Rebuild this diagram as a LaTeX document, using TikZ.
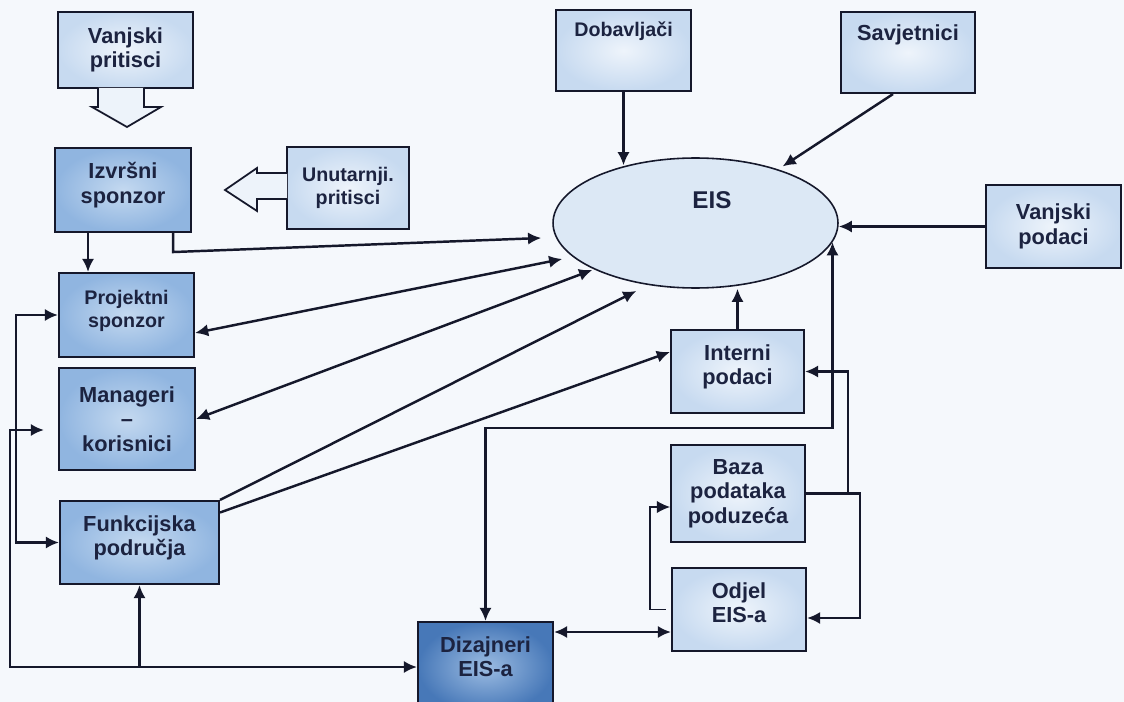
\documentclass[tikz,border=0pt]{standalone}
\usepackage{fontspec}
\setmainfont{Liberation Sans}
\usepackage{tikz}
\usetikzlibrary{arrows.meta,calc,positioning,shapes}

\definecolor{bgcol}{HTML}{F5F8FC}
\definecolor{linecol}{HTML}{15182B}
\definecolor{txtcol}{HTML}{1C2340}
\definecolor{lightin}{HTML}{EEF4FB}
\definecolor{lightout}{HTML}{C7DAF0}
\definecolor{midin}{HTML}{C4D9F0}
\definecolor{midout}{HTML}{90B5E0}
\definecolor{darkin}{HTML}{9CBCE2}
\definecolor{darkout}{HTML}{4778B8}
\definecolor{ellcol}{HTML}{DCE8F5}
\definecolor{blockcol}{HTML}{EDF3FA}

\tikzset{
	box/.style={draw=linecol, line width=1.2pt, inner color=lightin, outer color=lightout,
		text=txtcol, font=\bfseries\fontsize{12.4}{14}\selectfont, align=center,
		minimum width=2.7cm, minimum height=1.66cm, inner sep=2pt},
	midbox/.style={box, inner color=midin, outer color=midout},
	darkbox/.style={box, inner color=darkin, outer color=darkout},
	smalltext/.style={font=\bfseries\fontsize{11.2}{13}\selectfont},
	link/.style={draw=linecol, line width=1.4pt},
	blockarrow/.style={draw=linecol, line width=1pt, fill=blockcol, line join=miter},
	>={Latex[length=7.5pt,width=7pt]}
}

\begin{document}
\begin{tikzpicture}[x=0.02cm, y=-0.02cm]
	% Background
	\clip (0,0) rectangle (1124,702);
	\fill [bgcol] (0,0) rectangle (1124,702);

	% Place nodes
	\node [box, minimum height=1.52cm] (vpritisci) at (125.5,50) {Vanjski\\pritisci};
	\node [midbox, minimum width=2.72cm, minimum height=1.68cm] (izvrsni) at (123,190) {Izvršni\\sponzor\\[-6pt]\mbox{}};
	\node [box, smalltext, minimum width=2.44cm, minimum height=1.64cm] (unutarnji) at (348,188) {Unutarnji.\\pritisci};
	\node [box, smalltext, minimum height=1.62cm] (dobavljaci) at (623.5,50.5) {Dobavljači\\[11pt]\mbox{}};
	\node [box, minimum width=2.68cm, minimum height=1.62cm] (savjetnici) at (908,52.5) {Savjetnici\\[9pt]\mbox{}};
	\node [box] (vpodaci) at (1053.5,226.5) {Vanjski\\podaci};
	\node [ellipse, draw=linecol, line width=0.9pt, fill=ellcol, minimum width=5.7cm,
		minimum height=2.6cm, inner sep=0pt] (eis) at (695.5,223) {};
	\node [text=txtcol, font=\bfseries\fontsize{13.8}{16}\selectfont] (eislbl) at (712,200) {EIS};

	\node [midbox, smalltext, minimum height=1.68cm] (projektni) at (126.5,315) {Projektni\\sponzor\\[-6pt]\mbox{}};
	\node [midbox, minimum width=2.72cm, minimum height=2.04cm] (manageri) at (127,419) {Manageri\\–\\korisnici};
	\node [midbox, minimum width=3.18cm] (funkcijska) at (139.5,542.5) {Funkcijska\\područja\\[-6pt]\mbox{}};
	\node [darkbox, minimum height=1.8cm] (dizajneri) at (485.5,667) {Dizajneri\\EIS-a\\[-2pt]\mbox{}};

	\node [box, minimum width=2.66cm] (interni) at (737.5,371.5) {Interni\\podaci\\[-6pt]\mbox{}};
	\node [box, minimum width=2.68cm, minimum height=1.94cm] (baza) at (738,493.5) {Baza\\podataka\\poduzeća};
	\node [box, minimum width=2.68cm] (odjel) at (739,609.5) {Odjel\\EIS-a\\[-6pt]\mbox{}};
	\coordinate (dropline) at (0,428);

	% Pressure arrows
	\draw [blockarrow] (98,88) -- (98,107) -- (92,107) -- (127,127) -- (161,107) -- (144,107) -- (144,88);
	\draw [blockarrow] (287,173) -- (257,173) -- (257,168) -- (225,190) -- (257,211) -- (257,199) -- (287,199);

	% Draw edges
	\draw [->, link] (dobavljaci.south) -- (dobavljaci.south |- eis.140);
	\draw [->, link, shorten >=3pt] ($(savjetnici.south)+(-15,0)$) -- (eis.33);
	\draw [->, link] (vpodaci.west) -- (vpodaci.west -| eis.east);
	\draw [->, link] ([xshift=-0.7cm]izvrsni.south) -- ([xshift=-0.7cm]izvrsni.south |- projektni.north);
	\draw [->, link] ([xshift=-0.38cm]izvrsni.south east) -- ++(0,19) -- ($(eis.west)+(-11,15)$);
	\draw [<->, link] ([yshift=-0.36cm]projektni.east) -- ($(eis.west)+(10,36)$);
	\draw [<->, link] (manageri.east) -- ($(eis.west)+(40,47)$);
	\draw [->, link] (funkcijska.north east) -- ($(eis.west)+(84,68)$);
	\draw [->, link] ([yshift=0.6cm]funkcijska.east) -- ([yshift=0.39cm]interni.west);
	\draw [->, link] (interni.north) -- (interni.north |- eis.south);
	\draw [<->, link] (eis.352) -- (eis.352 |- dropline) -| (dizajneri.north);
	\draw [->, link] (baza.east) -- ++(42,0) |- (interni.east);
	\draw [->, link] (baza.east) -- ++(54,0) |- ([yshift=-0.17cm]odjel.east);
	\draw [->, link, line width=0.6pt] ([xshift=-0.1cm]odjel.west) -- ++(-16,0) |- ([yshift=-0.27cm]baza.west);
	\draw [<->, link] ([yshift=-0.45cm]odjel.west) -- ([yshift=-0.45cm]odjel.west -| dizajneri.east);
	\draw [<->, link] (projektni.west) -- ++(-42,0) |- (funkcijska.west);
	\draw [<->, link] ([xshift=-0.28cm,yshift=-0.22cm]manageri.west) -- ++(-34,0) |- (dizajneri.west);
	\draw [->, link] (funkcijska.south |- dizajneri.west) -- (funkcijska.south);
\end{tikzpicture}
\end{document}
